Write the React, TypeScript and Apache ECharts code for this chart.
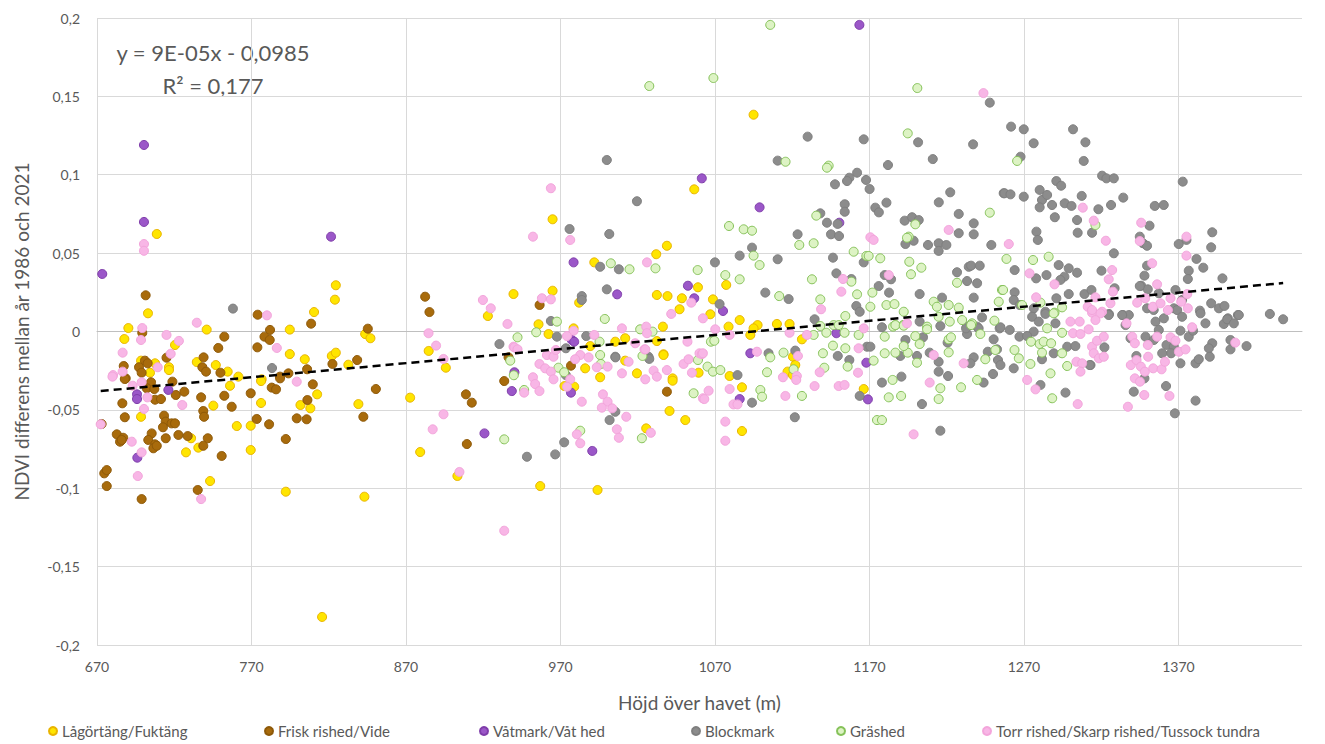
import React, { useEffect, useRef } from "react";
import * as echarts from "echarts";

type P = [number, number];

const SERIES_NAMES = [
  "Lågörtäng/Fuktäng",
  "Frisk rished/Vide",
  "Våtmark/Våt hed",
  "Blockmark",
  "Gräshed",
  "Torr rished/Skarp rished/Tussock tundra",
];

const lagortang: P[] = [
  [708.7,0.0622],[703,0.0116],[824.6,0.0295],[824,0.0203],[810.5,0.0124],[794.8,0.0012],[690.3,0.0022],[687.7,-0.0048],[741,0.0012],[720.5,-0.0086],[734.6,-0.0195],[698.5,-0.0186],[707.6,-0.0203],[716.6,-0.0228],[716.6,-0.0246],[704.3,-0.0263],[746.9,-0.0214],[754.6,-0.0256],[761.5,-0.0288],[794.8,-0.0144],[804.5,-0.0177],[822,-0.0156],[824.6,-0.0135],[832.7,-0.0212],[843.6,-0.0016],[847,-0.0043],[776.6,-0.0305],
  [745.3,-0.0473],[756.1,-0.0346],[776.2,-0.0316],[776.2,-0.0456],[812.5,-0.0401],[801.7,-0.0469],[808.1,-0.049],[839.2,-0.0463],[698.5,-0.0544],[760.5,-0.0603],[769.5,-0.0601],[730.9,-0.0681],[735.6,-0.0741],[727.6,-0.0771],[769.5,-0.0756],[743.2,-0.0954],[792.2,-0.1022],[843.1,-0.1054],[815.7,-0.1821],
  [1056.6,0.0907],[964.9,0.0716],[991.9,0.0441],[1032,0.0493],[1038.9,0.0547],[939.6,0.0239],[923,0.0099],[964.9,0.026],[982.1,0.0184],[1032.4,0.0233],[1039.3,0.0226],[1048.6,0.0212],[1059,0.0282],[1047.1,0.0142],[955.8,0.0046],[962.3,-0.0016],[978.5,0.002],[1036.3,0.0031],[1032.4,-0.0061],[1036.7,-0.0145],[1011.9,-0.0043],[1005.5,-0.0065],[989.3,-0.0093],[884.7,-0.0124],
  [895.8,-0.0231],[972.6,-0.0348],[978.9,-0.0352],[986,-0.0235],[995.7,-0.0292],[1011.9,-0.0186],[1019.5,-0.0267],[1036.7,-0.015],[1042.6,-0.0299],[1042.6,-0.0314],[1059.4,-0.0263],[1040.6,-0.0507],[1050.8,-0.0565],[1025.5,-0.0618],[872.7,-0.0422],[879.2,-0.0769],[903.3,-0.0922],[956.9,-0.0986],[994,-0.1011],
  [1095,0.1383],[1077.3,0.0297],[1068.7,0.0205],[1067,0.011],[1086,0.0073],[1078.8,0.0031],[1097.6,0.0041],[1110.1,0.0048],[1118.3,0.0048],
  [1092.9,-0.0022],[1095,0.002],[1126.3,-0.005],[1120.5,-0.0161],[1122,-0.0214],[1117,-0.0256],[1120.5,-0.0278],[1087.5,-0.0356],[1079.5,-0.0284],[1087.5,-0.0635],[1166.3,-0.0367],
];

const friskRished: P[] = [
  [701.5,0.0231],[774,0.0107],[808.6,0.005],[782,0.001],[778.4,-0.0033],[781.8,-0.0054],[773.8,-0.0101],[699.3,-0.0008],[752.4,-0.0033],[748.5,-0.0105],[739,-0.0165],[715,-0.0167],[701,-0.0186],[702.8,-0.0203],[697.2,-0.0228],[698.9,-0.0263],[687.3,-0.022],[688.6,-0.0299],[738.2,-0.0228],[740.6,-0.0256],[749.9,-0.0263],[793.9,-0.0267],[788.5,-0.0288],[806,-0.0241],[822.4,-0.0207],[838.4,-0.0182],[845.3,0.0018],
  [688,-0.0303],[705,-0.0324],[702.2,-0.0362],[707.1,-0.0367],[707.6,-0.0435],[711.4,-0.0431],[718.8,-0.032],[721,-0.0405],[726.5,-0.0384],[686.4,-0.0458],[737.4,-0.042],[738.8,-0.0507],[739.3,-0.0544],[752.4,-0.041],[757.2,-0.048],[769.5,-0.0394],[783.1,-0.0358],[785.9,-0.0369],[788.5,-0.0299],[809.7,-0.0337],[806.2,-0.0437],[799.3,-0.0554],[805.7,-0.056],[850.5,-0.0367],[842.4,-0.0544],[688,-0.0547],[673,-0.059],[713.4,-0.0537],[714.5,-0.0575],[712.7,-0.0611],[718.3,-0.0586],[720.5,-0.0586],[773.4,-0.0558],[781.4,-0.0592],[682.8,-0.0656],[687,-0.0678],[684.9,-0.0703],[686,-0.0692],[705.4,-0.065],[703.2,-0.0692],[707.6,-0.072],[706.5,-0.0745],[708.7,-0.0729],[714.5,-0.0681],[722.7,-0.066],[728.7,-0.0667],[741.7,-0.0681],[738.8,-0.0729],[750.7,-0.0794],[792.2,-0.0686],[674.7,-0.0905],[676.3,-0.0884],[676.3,-0.0986],[698.9,-0.1069],[735.2,-0.1011],
  [882.4,0.0222],[885.2,0.0124],[956.5,0.0169],[936.4,-0.0165],[933.6,-0.0316],[976.8,-0.0218],[1038.9,-0.0384],[908.8,-0.0401],[912.6,-0.0454],[909.4,-0.0718],
];

const vatmark: P[] = [
  [700.4,0.119],[700.4,0.0699],[821.5,0.0605],[673.4,0.0367],[716.2,-0.0373],[695.9,-0.0401],[695.9,-0.0431],[696.1,-0.0805],[1061.5,0.0977],[978.5,0.0441],[1006.7,0.0237],[1052.5,0.0292],[1056.6,0.0212],[977.4,-0.0054],[978.9,-0.0065],[940.2,-0.026],[938.5,-0.038],[976.8,-0.039],[920.8,-0.065],[990.6,-0.0762],[1098.9,0.0792],[1150.5,0.0694],[1075.2,0.0131],[1148.6,-0.0011],[1092.9,-0.0139],[1086,-0.0431],[1168,-0.0199],[1169,-0.0433],[1163.5,0.1956],
];

const blockmark: P[] = [
  [758,0.0146],[783.3,-0.0233],
  [1000,0.1094],[1019.5,0.0831],[975.9,0.0654],[1001.6,0.0622],[995.7,0.0413],[1007.8,0.0397],[983.8,0.0226],[983.8,0.0201],[1000,0.0269],[963.8,0.0067],[967.7,-0.0033],[986.7,-0.0029],[930.5,-0.008],[1005.5,-0.0161],[1027,-0.0161],[973.5,-0.0107],[973.5,-0.0278],[1005.6,-0.0165],[1027.5,-0.0175],[1005.5,-0.0512],[1001.8,-0.0565],[972.4,-0.0707],[966.6,-0.0784],[948.3,-0.0799],
  [1130,0.1243],[1166.3,0.1226],[1201.5,0.1207],[1237.1,0.1194],[1247.9,0.146],[1211,0.11],[1110.6,0.109],[1182,0.1062],[1162,0.1013],[1157,0.0981],[1155.5,0.096],[1167.8,0.0967],[1170.1,0.0909],[1147.7,0.0939],[1222.3,0.0888],[1214.9,0.0824],[1181,0.0822],[1154,0.0812],[1154,0.0764],[1173.8,0.079],[1176.1,0.076],[1138.2,0.0754],[1142.5,0.0694],[1149.4,0.0686],[1145.1,0.062],[1150.3,0.0609],[1123.5,0.062],[1094,0.0535],[1086,0.0484],[1070,0.0441],[1110.6,0.0461],[1102.6,0.0248],[1117.7,0.0207],[1073,0.0175],[1146.4,0.0471],[1166.3,0.0441],[1148.6,0.0371],[1158.3,0.0335],[1161.5,0.0163],[1163.7,0.0126],[1134.5,0.0078],[1176,0.029],[1179.9,0.036],[1184,0.0333],[1182.7,0.0248],[1202.5,0.0239],[1192.8,0.0707],[1197.6,0.0729],[1201.9,0.0711],[1198.6,0.0579],[1193.3,0.0558],[1207.9,0.0552],[1214.8,0.0563],[1219.8,0.0552],[1214.8,0.0514],[1227.8,0.075],[1237.5,0.069],[1237.5,0.062],[1227.8,0.0627],[1248.9,0.0552],[1256.9,0.0882],[1226.7,0.0378],[1233.2,0.0322],[1239.7,0.0308],[1234.3,0.0413],[1235.8,0.042],[1241.4,0.042],[1237.5,0.0216],[1217,0.0216],[1242.9,0.009],[1202.5,0.0063],[1215.9,0.0035],[1233.2,0.0031],[1239.7,0.0031],
  [1104.7,-0.0139],[1122,-0.0122],[1121.7,-0.0547],[1084.6,-0.0278],[1094,-0.0454],[1149.5,-0.0156],[1157,-0.0182],[1168.4,-0.0097],[1170.6,-0.0097],[1163.7,-0.0411],[1215.9,-0.0633],[1178.1,-0.0326],[1190.7,-0.0288],[1204,-0.0463],[1214.8,-0.0256],[1220.9,-0.0284],[1214.8,-0.0193],[1209,-0.0135],[1200.8,-0.0156],[1190,-0.0156],[1178.1,0.0027],[1193.3,-0.0054],[1204.7,-0.0037],[1220.6,-0.0071],[1233.2,-0.0016],[1232.5,0.002],[1240.7,0.002],[1250.4,-0.005],[1254.3,0.002],[1246.6,-0.0129],[1252.6,-0.0114],[1237.5,-0.0165],[1235.3,-0.0203],[1253.2,-0.0182],[1250,-0.0271],[1243.9,-0.0326],
  [1261.7,0.1307],[1269.9,0.129],[1276.3,0.1201],[1301.8,0.129],[1309.8,0.1207],[1308.7,0.1088],[1267.8,0.1115],[1291,0.096],[1294.1,0.093],[1320.6,0.0994],[1323.4,0.0977],[1328.2,0.0977],[1372.8,0.0956],[1257.4,0.0882],[1261.3,0.0875],[1269.9,0.086],[1280.2,0.0903],[1281.7,0.0839],[1285,0.0871],[1280.2,0.0792],[1288.2,0.0807],[1290,0.0729],[1296.4,0.0818],[1300.8,0.0801],[1307.4,0.0865],[1318.2,0.078],[1326.4,0.0807],[1334.3,0.0854],[1304.4,0.0711],[1304.8,0.063],[1314.1,0.063],[1278.1,0.0637],[1279,0.0584],[1328.2,0.0499],[1354.7,0.0801],[1360.5,0.0807],[1351.3,0.0675],[1345,0.0605],[1347.1,0.0563],[1349.7,0.0547],[1370.2,0.0558],[1375.2,0.0584],[1391.9,0.0633],[1391.2,0.0537],[1381.7,0.0463],[1386.1,0.0407],[1376.7,0.0388],[1376.1,0.0335],[1398.5,0.0339],[1349.7,0.042],[1348,0.0356],[1345.9,0.0292],[1350.2,0.0269],[1328.7,0.0276],[1320.2,0.0388],[1264,0.0392],[1277.9,0.0339],[1284.6,0.036],[1292.5,0.0424],[1299,0.0403],[1304.4,0.0375],[1296.2,0.035],[1293.6,0.0329],[1264,0.025],[1299,0.0239],[1309.2,0.0239],[1313.7,0.0265],[1291,0.0212],[1263.4,0.0201],[1267.3,0.0169],[1276.4,0.0148],[1283.9,0.0126],[1325,0.0112],[1334.2,0.0105],[1337.9,0.0105],[1345,0.029],[1357.3,0.0244],[1368.1,0.0265],[1372.4,0.0201],[1349.7,0.0148],[1354,0.0137],[1367,0.0148],[1369.2,0.0137],[1383.9,0.0133],[1391.2,0.018],[1396.2,0.0148],[1399.8,0.0163],[1408.5,0.0105],[1402,0.0084],[1429.2,0.0112],[1437.8,0.0078],
  [1254.8,0.0027],[1260.8,0.001],[1267.1,-0.0033],[1276.3,-0.0001],[1275.3,0.0094],[1279.6,0.0063],[1283.9,0.0112],[1290.4,0.0052],[1272.1,-0.0029],[1263.4,-0.0235],[1281.7,-0.0177],[1289.3,-0.0139],[1298,-0.0097],[1303.3,-0.0093],[1313.1,-0.0214],[1296.9,-0.039],[1280.7,-0.0341],[1254.8,-0.0214],[1312.6,-0.0214],[1322.1,-0.0101],[1324.9,0.0105],[1333.6,0.0105],[1335.8,0.0041],[1339,-0.0043],[1348.7,-0.0033],[1354.1,-0.0054],[1342.8,-0.0156],[1348,-0.0299],[1341.1,-0.0384],[1355.2,0.0063],[1357.3,0.001],[1360.6,0.0084],[1372.4,0.0094],[1371.3,0.0005],[1376.7,-0.0033],[1379.5,0.0005],[1384.3,0.0116],[1387.5,0.0052],[1399.4,0.0048],[1401.6,0.0078],[1405.9,0.0052],[1409.1,0.0105],[1391.9,-0.0075],[1389.7,-0.0107],[1381.1,-0.0203],[1383.2,-0.0177],[1390.3,-0.0161],[1371.3,-0.0203],[1359.5,-0.0139],[1362.3,-0.0086],[1367,-0.0097],[1365.3,-0.0139],[1362,-0.0348],[1381.1,-0.0441],[1367.7,-0.0522],[1403.7,-0.0054],[1403.7,-0.0114],[1414.1,-0.0093],
];

const grashed: P[] = [
  [1002.6,0.0435],[1014.7,0.0397],[1031.5,0.0403],[1058.8,0.0392],[998.7,0.008],[967.7,0.0063],[954.3,-0.0005],[942.2,-0.0037],[1021.6,0.0014],[1029.6,-0.0001],[995.3,-0.0065],[995.7,-0.015],[1023.1,-0.0156],[937.5,-0.0186],[939.8,-0.0279],[946.5,-0.0373],[968.7,-0.0231],[972.4,-0.026],[996.2,-0.0207],[1059,-0.0182],[1056.2,-0.0394],[1022.7,-0.0681],[982.8,-0.0633],[933.6,-0.0688],
  [1105.8,0.1956],[1027.5,0.1566],[1069,0.1617],[1201,0.1553],
  [1194.8,0.1264],[1115.7,0.1083],[1143.6,0.1058],[1142.5,0.1045],[1135.6,0.0739],[1124.6,0.0552],[1133.9,0.0563],[1079.1,0.0673],[1088.6,0.0652],[1094,0.0643],[1095,0.0484],[1098.9,0.0424],[1076.7,0.036],[1086,0.0333],[1111.6,0.0226],[1132.8,0.0333],[1159.8,0.0509],[1168,0.0482],[1169.5,0.0482],[1177,0.0467],[1158.3,0.0318],[1162,0.0237],[1138.2,0.0205],[1154.4,0.0099],[1170.6,0.0158],[1171.9,0.0248],[1181,0.0169],[1186.2,0.0175],[1195.8,0.0445],[1196.9,0.0365],[1203.6,0.0407],[1199.7,0.0684],[1195.4,0.0605],[1194.3,0.0598],[1247.9,0.0758],[1226.7,0.0311],[1255.8,0.0265],[1253.7,0.019],[1211.6,0.019],[1213.7,0.0158],[1221.3,0.0169],[1227.8,0.0152],[1192.2,0.0126],[1214.8,0.0094],[1222,0.0063],[1230,0.0073],[1236.4,0.0052],[1250.9,0.0069],[1186.8,0.0041],[1191.8,0.0041],[1207.3,0.0031],
  [1067.4,-0.0065],[1069.6,-0.0059],[1133.9,-0.0022],[1142.1,-0.0008],[1138.2,0.0035],[1146.8,0.0041],[1150.1,0.0041],[1153.9,-0.0008],[1163,-0.0022],[1105.8,-0.0165],[1114.4,-0.0135],[1120.9,-0.0241],[1103.7,-0.026],[1126.3,-0.0411],[1065.2,-0.0224],[1068.7,-0.0256],[1073.5,-0.0246],[1099.4,-0.0373],[1100.5,-0.0416],[1140.8,-0.0231],[1155.9,-0.0224],[1139.9,-0.0139],[1146.4,-0.009],[1154.4,-0.0107],[1172.7,-0.0186],[1174.9,-0.0565],[1178.1,-0.0565],[1185,-0.0309],[1182.5,-0.042],[1190.5,-0.0411],[1200.8,-0.0199],[1215.9,-0.0362],[1214.8,-0.0431],[1179.9,-0.0139],[1186.8,-0.0135],[1194.8,-0.0135],[1179.9,-0.0033],[1192.2,-0.0093],[1199.7,-0.0029],[1202.5,-0.008],[1185.3,0.0031],[1186.8,0.0041],[1192.2,0.0037],[1207.3,0.0014],[1221.3,-0.005],[1222.8,-0.0037],[1221.3,-0.0133],[1241.8,-0.0016],[1235.8,0.0041],[1251.5,-0.0118],[1245,-0.0177],[1239.7,-0.0309],[1229.3,-0.0356],
  [1316.3,0.0679],[1265.6,0.1088],[1258.7,0.0463],[1275.9,0.0456],[1286,0.0477],[1256.5,0.0265],[1280.7,0.0184],[1268.8,0.0169],[1294.7,0.0154],[1289.8,0.012],[1285,0.002],[1294.7,-0.0008],[1289.3,0.0116],[1274.6,-0.0065],[1280.2,-0.008],[1282.8,-0.0065],[1287.6,-0.0075],[1281.7,-0.0135],[1294.7,-0.0139],[1263.9,-0.0118],[1266.7,-0.0171],[1274.2,-0.0207],[1287.2,-0.0267],[1288.3,-0.0426],[1298,-0.022],
];

const torrRished: P[] = [
  [700.4,0.0558],[700.4,0.0515],[780,0.0103],[786.4,-0.0105],[699.3,0.0022],[698.5,-0.0054],[715,-0.0022],[723,-0.006],[734.6,0.0056],[686.6,-0.0135],[717.7,-0.0142],[709.3,-0.0228],[686.6,-0.0256],[680.4,-0.0278],[680,-0.0288],[693.1,-0.0346],[698.9,-0.0324],[702.6,-0.042],[700.4,-0.0494],[725.2,-0.0469],[799.3,-0.032],[672.4,-0.0592],[692.5,-0.0703],[698.9,-0.0771],[696.4,-0.0922],[737.4,-0.1069],
  [963.8,0.0914],[952.2,0.0605],[976.3,0.0584],[1026,0.0441],[919.8,0.0201],[924.9,0.0148],[935.7,0.0048],[958,0.0212],[963.8,0.0205],[1054.7,0.0184],[1041.7,0.0112],[1062.2,0.0084],[978.5,0.0005],[974.2,-0.0029],[991.9,-0.0022],[1009.8,0.002],[1025.5,0.0031],[1026,-0.0011],[1018.4,-0.0075],[1024.4,-0.0114],[1052.2,-0.0065],[939.6,-0.0097],[884.6,-0.0011],[889.5,-0.009],[1060,-0.0139],
  [894.3,-0.0175],[940.2,-0.0101],[942.2,-0.0114],[946.5,-0.039],[956.4,-0.0207],[960.1,-0.0235],[963.8,-0.0256],[961.2,-0.015],[965.5,-0.0161],[967,-0.0118],[952.2,-0.0292],[953.6,-0.0335],[956.4,-0.038],[965.5,-0.0305],[976.3,-0.0305],[974.2,-0.0352],[983.8,-0.0448],[982.8,-0.015],[979.5,-0.0177],[988.2,-0.0165],[993.5,-0.0228],[1000.5,-0.0224],[1014.1,-0.0193],[1009.8,-0.0267],[1024.9,-0.0114],[1030.3,-0.025],[1032.4,-0.0288],[1024.9,-0.0305],[1038.9,-0.0246],[1049.7,-0.0207],[1052.9,-0.0177],[1055.1,-0.0263],[1061.5,-0.0144],[1062.2,-0.0426],[997.5,-0.0401],[1000.5,-0.0448],[996.8,-0.0486],[1003.5,-0.049],[1012.6,-0.0544],[1006.5,-0.0624],[1007.8,-0.0678],[1028.5,-0.0646],[980.6,-0.0656],[982.8,-0.0713],[894.3,-0.0528],[887.3,-0.0624],[904.6,-0.0896],[933.6,-0.1271],
  [1221.3,0.0648],[1170.6,0.0601],[1172.7,0.0584],[1152.9,0.0335],[1151.8,0.0254],[1138.7,0.0142],[1182.5,0.036],[1194.3,0.0052],[1243.8,0.1521],
  [1070.2,0.0014],[1079.5,-0.0022],[1118.3,-0.0008],[1129.5,-0.0022],[1166.3,0.002],[1097.2,-0.0129],[1123.7,-0.0156],[1123,-0.0284],[1122.6,-0.0309],[1114,-0.0292],[1115.6,-0.0411],[1079.5,-0.0367],[1065.9,-0.0378],[1063.1,-0.0431],[1062.2,-0.0139],[1082,-0.0465],[1084.6,-0.0465],[1076.7,-0.0575],[1076.7,-0.0697],[1137.8,-0.026],[1134.5,-0.0348],[1150.1,-0.0348],[1153.9,-0.0341],[1162.6,-0.0263],[1163,-0.0107],[1198.6,-0.0656],[1209,-0.0326],[1211.6,-0.015],[1231,-0.0203],
  [1308.1,0.079],[1315.2,0.0707],[1260.2,0.0558],[1323,0.0579],[1345.9,0.0694],[1345,0.0577],[1375.2,0.0605],[1375.2,0.0484],[1353,0.0435],[1356.2,0.0301],[1327.6,0.0254],[1327.1,0.0392],[1324.9,0.0333],[1273.6,0.0371],[1289.8,0.0301],[1277.9,0.0218],[1316.3,0.0218],[1326,0.018],[1311.3,0.0158],[1314.1,0.012],[1320.6,0.0126],[1343.3,0.0184],[1348.5,0.0212],[1353.5,0.0158],[1358.4,0.018],[1363.2,0.0137],[1364.9,0.0212],[1371.8,0.019],[1375.7,0.0239],[1376.1,0.0148],
  [1272.1,-0.0309],[1277.5,-0.0369],[1300.1,0.0063],[1306.1,0.0063],[1301.8,-0.0011],[1306.6,-0.0016],[1311.9,0.0014],[1319.6,0.0116],[1316.3,0.0073],[1314.1,0.0137],[1314.1,-0.0097],[1317.3,-0.0059],[1321.7,-0.0033],[1315.2,-0.0139],[1318.5,-0.0171],[1321.7,-0.0161],[1304,-0.0193],[1307.7,-0.0203],[1306.6,-0.0256],[1304.8,-0.0463],[1336.4,0.0052],[1340.1,-0.0033],[1341.8,-0.0075],[1339.2,-0.0214],[1342.9,-0.0182],[1345.7,-0.0224],[1348.3,-0.0256],[1350.4,-0.0161],[1353.7,-0.0235],[1359.1,-0.0241],[1361.3,-0.0193],[1341.8,-0.0299],[1345.1,-0.032],[1347.9,-0.0405],[1337.3,-0.048],[1350.2,-0.0086],[1356.2,-0.0033],[1364.9,-0.0037],[1368.1,-0.0059],[1370.3,-0.0129],[1374.6,-0.0114],[1378.9,0.0027],[1406.8,-0.0071],[1364.2,-0.0411],
];

const SERIES_DATA: P[][] = [lagortang, friskRished, vatmark, blockmark, grashed, torrRished];

const FILL_COLORS = ["#FFE500", "#A86B0C", "#9B57C8", "#8C8C8C", "#DDF3C4", "#F8B6E6"];
const BORDER_COLORS = ["#E9B400", "#8E5908", "#7F3DAA", "#7F7F7F", "#86C25A", "#F3A5DB"];

// Excel linear trendline
const TREND_SLOPE = 0.00009;
const TREND_INTERCEPT = -0.0985;
const TREND_LABEL = ["y = 9E-05x - 0,0985", "R² = 0,177"];

const LEGEND_LEFT = [46, 262, 477, 689, 834, 980];

const TEXT_COLOR = "#595959";
const FONT = "Lato, 'Open Sans', 'Liberation Sans', sans-serif";

export default function App() {
  const ref = useRef<HTMLDivElement>(null);

  useEffect(() => {
    if (!ref.current) return;
    const chart = echarts.init(ref.current, undefined, { renderer: "svg" });

    const allX = SERIES_DATA.flat().map((p) => p[0]);
    const xMin = Math.min(...allX);
    const xMax = Math.max(...allX);
    const trend: P[] = [
      [xMin, TREND_SLOPE * xMin + TREND_INTERCEPT],
      [xMax, TREND_SLOPE * xMax + TREND_INTERCEPT],
    ];

    const scatterSeries = SERIES_NAMES.map((name, i) => ({
      name,
      type: "scatter",
      data: SERIES_DATA[i],
      symbol: "circle",
      symbolSize: 9,
      itemStyle: {
        color: FILL_COLORS[i],
        borderColor: BORDER_COLORS[i],
        borderWidth: 1,
        opacity: 1,
      },
      z: 3,
    }));

    const legends = SERIES_NAMES.map((name, i) => ({
      data: [name],
      left: LEGEND_LEFT[i],
      top: 720,
      orient: "horizontal",
      icon: "circle",
      itemWidth: 8,
      itemHeight: 8,
      itemGap: 5,
      padding: 2,
      selectedMode: false,
      textStyle: { color: TEXT_COLOR, fontSize: 15, fontFamily: FONT, lineHeight: 18 },
    }));

    chart.setOption({
      animation: false,
      backgroundColor: "#ffffff",
      textStyle: { fontFamily: FONT },
      grid: { left: 97, right: 23, top: 18, bottom: 99, containLabel: false },
      legend: legends,
      xAxis: {
        type: "value",
        min: 670,
        max: 1450,
        interval: 100,
        name: "Höjd över havet (m)",
        nameLocation: "middle",
        nameGap: 48,
        nameTextStyle: { color: TEXT_COLOR, fontSize: 19, fontFamily: FONT },
        axisLine: { show: true, lineStyle: { color: "#BFBFBF", width: 1 } },
        axisTick: { show: false },
        axisLabel: {
          color: TEXT_COLOR,
          fontSize: 14,
          fontFamily: FONT,
          margin: 14,
          showMaxLabel: false,
          formatter: (v: number) => String(Math.round(v)),
        },
        splitLine: {
          show: true,
          showMaxLine: false,
          lineStyle: { color: "#D9D9D9", width: 1 },
        },
      },
      yAxis: {
        type: "value",
        min: -0.2,
        max: 0.2,
        interval: 0.05,
        name: "NDVI differens mellan år 1986 och 2021",
        nameLocation: "middle",
        nameRotate: 90,
        nameGap: 66,
        nameTextStyle: { color: TEXT_COLOR, fontSize: 19, fontFamily: FONT },
        axisLine: { show: false },
        axisTick: { show: false },
        axisLabel: {
          color: TEXT_COLOR,
          fontSize: 14,
          fontFamily: FONT,
          margin: 17,
          formatter: (v: number) => String(Math.round(v * 100) / 100).replace(".", ","),
        },
        splitLine: { show: true, lineStyle: { color: "#D9D9D9", width: 1 } },
      },
      series: [
        ...scatterSeries,
        {
          name: "Linjär trend",
          type: "line",
          data: trend,
          symbol: "none",
          silent: true,
          lineStyle: { color: "#000000", width: 2.5, type: [8, 5] },
          z: 5,
        },
      ],
      graphic: [
        {
          type: "group",
          z: 100,
          children: [
            {
              type: "rect",
              shape: { x: 104, y: 30, width: 216, height: 67 },
              style: { fill: "#ffffff" },
            },
            {
              type: "text",
              x: 213,
              y: 52,
              style: {
                text: TREND_LABEL[0],
                fill: TEXT_COLOR,
                fontSize: 22,
                fontFamily: FONT,
                align: "center",
                verticalAlign: "middle",
              },
            },
            {
              type: "text",
              x: 213,
              y: 85,
              style: {
                text: TREND_LABEL[1],
                fill: TEXT_COLOR,
                fontSize: 22,
                fontFamily: FONT,
                align: "center",
                verticalAlign: "middle",
              },
            },
          ],
        },
      ],
    });

    return () => chart.dispose();
  }, []);

  return (
    <div
      ref={ref}
      style={{ position: "fixed", left: 0, top: 0, width: 1325, height: 744, background: "#fff" }}
    />
  );
}
